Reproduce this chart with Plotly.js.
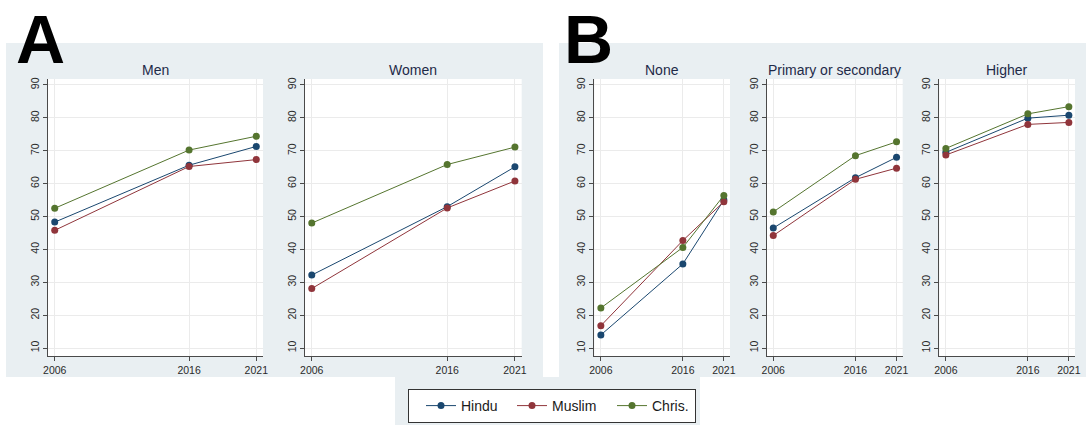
<!DOCTYPE html>
<html>
<head>
<meta charset="utf-8">
<script src="https://cdn.plot.ly/plotly-3.0.1.min.js"></script>
<style>html,body{margin:0;padding:0;background:#fff;}#chart{width:1086px;height:425px;}</style>
</head>
<body>
<div id="chart"></div>
<script>
// ---- Data ----
const years = [2006, 2016, 2021];
const panelTitles = ["Men", "Women", "None", "Primary or secondary", "Higher"];
const seriesNames = ["Hindu", "Muslim", "Chris."];
// values per panel: [2006, 2016, 2021]
const hinduValues = [
  [48.3, 65.6, 71.3],
  [32.2, 53.0, 65.1],
  [14.0, 35.6, 55.0],
  [46.5, 61.8, 68.0],
  [69.5, 79.9, 80.8]
];
const muslimValues = [
  [45.8, 65.2, 67.3],
  [28.1, 52.6, 60.8],
  [16.8, 42.7, 54.5],
  [44.2, 61.3, 64.7],
  [68.7, 78.0, 78.6]
];
const christianValues = [
  [52.5, 70.2, 74.4],
  [48.0, 65.8, 71.1],
  [22.2, 40.6, 56.4],
  [51.4, 68.5, 72.7],
  [70.7, 81.2, 83.4]
];
const yTicks = [10, 20, 30, 40, 50, 60, 70, 80, 90];
const panelLetters = ["A", "B"];

// ---- Styling / layout ----
const W = 1086, H = 425;
const colors = ["#1a476f", "#90353b", "#55752f"];
const legendWidths = [34, 43, 38];
const allValues = [hinduValues, muslimValues, christianValues];
// plot areas in pixels [left, right]
const plotPx = [[48, 263], [305, 521.7], [594.3, 730], [766.7, 902.7], [939.3, 1075]];
const plotTop = 79, plotBottom = 356;
const xRanges = [[2005.5, 2021.5], [2005.5, 2021.5], [2005.2, 2021.75], [2005.2, 2021.75], [2005.2, 2021.75]];
const yRange = [7.6, 91.8];
const px = v => v / W, py = v => 1 - v / H;

const traces = [];
const layout = {
  width: W, height: H,
  margin: {l: 0, r: 0, t: 0, b: 0},
  paper_bgcolor: "#ffffff",
  plot_bgcolor: "rgba(0,0,0,0)",
  font: {family: "Liberation Sans, Arial, sans-serif", color: "#333333"},
  showlegend: true,
  legend: {
    orientation: "h",
    x: px(408), xanchor: "left",
    y: py(389), yanchor: "top",
    bgcolor: "#ffffff",
    bordercolor: "#333333", borderwidth: 1,
    font: {size: 14, color: "#1a1a1a", family: "Liberation Sans, Arial, sans-serif"},
    indentation: 12,
    traceorder: "normal"
  },
  shapes: [
    {type: "rect", xref: "paper", yref: "paper", x0: px(6), x1: px(543), y0: py(377), y1: py(43), fillcolor: "#e9eff2", line: {width: 0}, layer: "below"},
    {type: "rect", xref: "paper", yref: "paper", x0: px(559), x1: px(1086), y0: py(377), y1: py(43), fillcolor: "#e9eff2", line: {width: 0}, layer: "below"},
    {type: "rect", xref: "paper", yref: "paper", x0: px(395), x1: px(700), y0: py(425), y1: py(377), fillcolor: "#e9eff2", line: {width: 0}, layer: "below"}
  ],
  annotations: []
};

plotPx.forEach((p, i) => {
  const sfx = i === 0 ? "" : String(i + 1);
  const xa = "xaxis" + sfx, ya = "yaxis" + sfx;
  layout.shapes.push({type: "rect", xref: "paper", yref: "paper", x0: px(p[0]), x1: px(p[1]), y0: py(plotBottom), y1: py(plotTop), fillcolor: "#ffffff", line: {width: 0}, layer: "below"});
  layout[xa] = {
    domain: [px(p[0]), px(p[1])],
    anchor: "y" + sfx,
    range: xRanges[i],
    tickmode: "array", tickvals: years, ticktext: years.map(String),
    showgrid: true, gridcolor: "#ebebeb", gridwidth: 1,
    zeroline: false,
    showline: true, linecolor: "#4a4a4a", linewidth: 1,
    ticks: "outside", ticklen: 4, tickcolor: "#4a4a4a",
    tickfont: {size: 10.5, color: "#2a2a2a"}, fixedrange: true
  };
  layout[ya] = {
    domain: [py(plotBottom), py(plotTop)],
    anchor: "x" + sfx,
    range: yRange,
    tickmode: "array", tickvals: yTicks,
    tickangle: -90,
    showgrid: true, gridcolor: "#ebebeb", gridwidth: 1,
    zeroline: false,
    showline: true, linecolor: "#4a4a4a", linewidth: 1,
    ticks: "outside", ticklen: 4, tickcolor: "#4a4a4a",
    tickfont: {size: 10.5, color: "#2a2a2a"}, fixedrange: true
  };
  layout.annotations.push({
    text: panelTitles[i], xref: "paper", yref: "paper",
    x: px((p[0] + p[1]) / 2), y: py(70), xanchor: "center", yanchor: "middle",
    showarrow: false, font: {size: 14, color: "#1e2a48"}
  });
  seriesNames.forEach((name, s) => {
    traces.push({
      type: "scatter", mode: "lines+markers",
      x: years, y: allValues[s][i],
      xaxis: "x" + sfx, yaxis: "y" + sfx,
      name: name, legendgroup: name, showlegend: i === 0,
      legendwidth: legendWidths[s],
      line: {color: colors[s], width: 1},
      marker: {color: colors[s], size: 7},
      hoverinfo: "x+y+name"
    });
  });
});

// panel letters
const letterX = [15, 563];
panelLetters.forEach((L, k) => {
  layout.annotations.push({text: "<b>" + L + "</b>", xref: "paper", yref: "paper", x: px(letterX[k]), y: 1, xanchor: "left", yanchor: "top", borderpad: 0, showarrow: false, font: {size: 68, color: "#000000", family: "Liberation Sans, Arial, sans-serif"}});
});

Plotly.newPlot("chart", traces, layout, {displayModeBar: false, staticPlot: true});
</script>
</body>
</html>
